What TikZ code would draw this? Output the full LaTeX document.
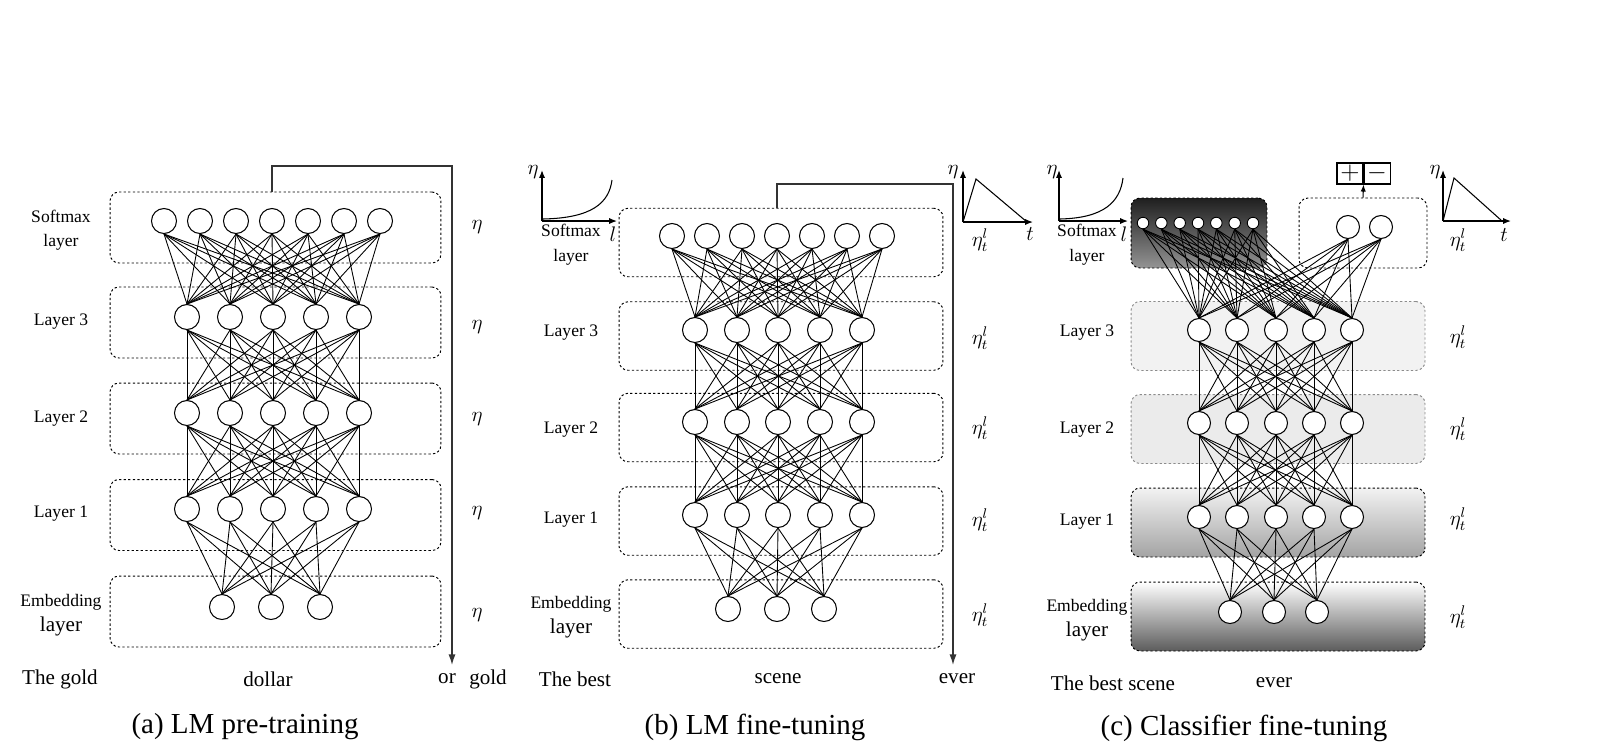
\documentclass[tikz,border=0pt]{standalone}
\usepackage{fontspec}
\setmainfont{Liberation Serif}
\usetikzlibrary{shapes,positioning,arrows.meta}

\begin{document}
\begin{tikzpicture}[x=0.02cm, y=-0.02cm,
    neuron/.style={circle, draw, fill=white, inner sep=0pt, minimum size=0.5cm, line width=0.6pt},
    dot/.style={circle, draw, fill=white, inner sep=0pt, minimum size=0.23cm, line width=0.5pt},
    layerbox/.style={draw, rectangle, rounded corners=0.18cm, dash pattern=on 1.3pt off 1.3pt, line width=0.55pt, inner sep=0pt},
    edge/.style={line width=0.5pt},
    flow/.style={line width=0.8pt, black!80, -{Latex[length=6pt,width=4pt]}},
    axis/.style={line width=0.7pt, -{Latex[length=4.5pt,width=3.5pt]}},
    lbl/.style={font=\fontsize{10}{14}\selectfont, align=center},
    word/.style={font=\fontsize{12}{14}\selectfont},
    rate/.style={font=\fontsize{12}{14}\selectfont},
    captext/.style={font=\fontsize{16.5}{18}\selectfont}]

\useasboundingbox (0,0) rectangle (1600,755);

% ---------------- (a) LM pre-training ----------------
% Layers
\foreach \n/\y in {s/227.5,3/322.5,2/418.5,1/515,e/611.5}
    \node[layerbox, minimum width=6.62cm, minimum height=1.42cm] (a-box-\n) at (275.5,\y) {};

% Units
\foreach \x [count=\i] in {164,200,236,272,308,344,380}
    \node[neuron] (a-s-\i) at (\x,221) {};
\foreach \y/\n in {317/3,413/2,509/1}
    \foreach \x [count=\i] in {187,230,273,316,359}
        \node[neuron] (a-\n-\i) at (\x,\y) {};
\foreach \x [count=\i] in {222,271,320}
    \node[neuron] (a-e-\i) at (\x,607) {};

% Weights
\foreach \i in {1,...,7} \foreach \j in {1,...,5}
    \draw[edge] (a-s-\i.south) -- (a-3-\j.north);
\foreach \i in {1,...,5} \foreach \j in {1,...,5} {
    \draw[edge] (a-3-\i.south) -- (a-2-\j.north);
    \draw[edge] (a-2-\i.south) -- (a-1-\j.north);
}
\foreach \i in {1,...,5} \foreach \j in {1,...,3}
    \draw[edge] (a-1-\i.south) -- (a-e-\j.north);

% Output loop
\coordinate (a-top) at (452,166);
\coordinate (a-end) at (452,665);
\draw[flow] (a-box-s.north -| a-s-4) |- (a-top) -- (a-end);

% Labels
\node[lbl] (a-ls) at (61,230) {Softmax\\layer};
\node[lbl] (a-l3) at (61,322) {Layer 3};
\node[lbl] (a-l2) at (61,419) {Layer 2};
\node[lbl] (a-l1) at (61,514) {Layer 1};
\node[lbl] (a-le) at (61,615) {Embedding\\{\fontsize{12}{14}\selectfont layer}};
\foreach \y [count=\i] in {227,327,419,513,615}
    \node[rate] (a-r-\i) at (477,\y) {$\eta$};
\node[word] (a-w1) at (60,679) {The gold};
\node[word] (a-w2) at (268,679) {dollar};
\node[word] (a-w3) at (447,679) {or};
\node[word] (a-w4) at (488,679) {gold};
\node[captext] (a-cap) at (245,727) {(a) LM pre-training};

% ---------------- (b) LM fine-tuning ----------------
\foreach \n/\y in {s/242.5,3/336,2/427.5,1/521,e/614}
    \node[layerbox, minimum width=6.48cm, minimum height=1.37cm] (b-box-\n) at (781,\y) {};

\foreach \x [count=\i] in {672,707,742,777,812,847,882}
    \node[neuron] (b-s-\i) at (\x,236) {};
\foreach \y/\n in {330/3,422/2,515/1}
    \foreach \x [count=\i] in {695,737,778,820,862}
        \node[neuron] (b-\n-\i) at (\x,\y) {};
\foreach \x [count=\i] in {728,777,824}
    \node[neuron] (b-e-\i) at (\x,609) {};

\foreach \i in {1,...,7} \foreach \j in {1,...,5}
    \draw[edge] (b-s-\i.south) -- (b-3-\j.north);
\foreach \i in {1,...,5} \foreach \j in {1,...,5} {
    \draw[edge] (b-3-\i.south) -- (b-2-\j.north);
    \draw[edge] (b-2-\i.south) -- (b-1-\j.north);
}
\foreach \i in {1,...,5} \foreach \j in {1,...,3}
    \draw[edge] (b-1-\i.south) -- (b-e-\j.north);

\coordinate (b-top) at (953,184);
\coordinate (b-end) at (953,665);
\draw[flow] (b-box-s.north -| b-s-4) |- (b-top) -- (b-end);

% discriminative fine-tuning
\draw[axis] (542,221) -- (542,170);
\draw[axis] (542,221) -- (617,221);
\draw[line width=0.6pt] (543,219) .. controls (592,218) and (609,203) .. (612,180);
\node[rate] at (533,172) {$\eta$};
\node[rate] at (613,234) {$l$};
% slanted triangular rates
\draw[axis] (963,222) -- (963,170);
\draw[axis] (963,222) -- (1033,222);
\draw[line width=0.6pt] (963,222) -- (976,179) -- (1027,222);
\node[rate] at (953,172) {$\eta$};
\node[rate] at (1030,234) {$t$};

\node[lbl] (b-ls) at (571,245) {Softmax\\layer};
\node[lbl] (b-l3) at (571,333) {Layer 3};
\node[lbl] (b-l2) at (571,430) {Layer 2};
\node[lbl] (b-l1) at (571,520) {Layer 1};
\node[lbl] (b-le) at (571,617) {Embedding\\{\fontsize{12}{14}\selectfont layer}};
\foreach \y [count=\i] in {240,338,428,520,615}
    \node[rate] (b-r-\i) at (980,\y) {$\eta_t^l$};
\node[word] (b-w1) at (575,679) {The best};
\node[word] (b-w2) at (778,679) {scene};
\node[word] (b-w3) at (957,679) {ever};
\node[captext] (b-cap) at (755,727) {(b) LM fine-tuning};

% ---------------- (c) Classifier fine-tuning ----------------
\node[layerbox, minimum width=2.72cm, minimum height=1.4cm, top color=black!88, bottom color=black!42] (c-box-s) at (1199,233) {};
\node[layerbox, minimum width=2.56cm, minimum height=1.4cm] (c-box-c) at (1363,233) {};
\node[layerbox, draw=black!45, fill=black!5, minimum width=5.88cm, minimum height=1.38cm] (c-box-3) at (1278,336) {};
\node[layerbox, draw=black!45, fill=black!8, minimum width=5.88cm, minimum height=1.38cm] (c-box-2) at (1278,429) {};
\node[layerbox, top color=black!5, bottom color=black!36, minimum width=5.88cm, minimum height=1.38cm] (c-box-1) at (1278,522.5) {};
\node[layerbox, top color=white, bottom color=black!64, minimum width=5.88cm, minimum height=1.38cm] (c-box-e) at (1278,616.5) {};

\foreach \x [count=\i] in {1143,1161.3,1179.7,1198,1216.3,1234.7,1253}
    \node[dot] (c-s-\i) at (\x,223) {};
\foreach \x [count=\i] in {1348,1381}
    \node[neuron, minimum size=0.46cm] (c-c-\i) at (\x,227) {};
\foreach \y/\n in {330/3,423/2,517/1}
    \foreach \x [count=\i] in {1199,1237,1276,1314,1352}
        \node[neuron, minimum size=0.46cm] (c-\n-\i) at (\x,\y) {};
\foreach \x [count=\i] in {1230,1274,1317}
    \node[neuron, minimum size=0.46cm] (c-e-\i) at (\x,612) {};

\foreach \i in {1,...,7} \foreach \j in {1,...,5}
    \draw[edge] (c-s-\i.south) -- (c-3-\j.north);
\foreach \i in {1,2} \foreach \j in {1,...,5}
    \draw[edge] (c-c-\i.south) -- (c-3-\j.north);
\foreach \i in {1,...,5} \foreach \j in {1,...,5} {
    \draw[edge] (c-3-\i.south) -- (c-2-\j.north);
    \draw[edge] (c-2-\i.south) -- (c-1-\j.north);
}
\foreach \i in {1,...,5} \foreach \j in {1,...,3}
    \draw[edge] (c-1-\i.south) -- (c-e-\j.north);

% Output classes
\node[draw, line width=0.6pt, minimum width=0.52cm, minimum height=0.42cm, inner sep=0pt, font=\fontsize{14}{14}\selectfont] (c-pos) at (1350,173.5) {$+$};
\node[draw, line width=0.6pt, minimum width=0.52cm, minimum height=0.42cm, inner sep=0pt, font=\fontsize{14}{14}\selectfont, right=0pt of c-pos] (c-neg) {$-$};
\draw[line width=0.6pt, -{Latex[length=4pt,width=3pt]}] (c-box-c.north) -- (c-pos.south east);

% discriminative fine-tuning
\draw[axis] (1059,221) -- (1059,170);
\draw[axis] (1059,221) -- (1128,221);
\draw[line width=0.6pt] (1060,219) .. controls (1104,218) and (1120,202) .. (1123,178);
\node[rate] at (1052,172) {$\eta$};
\node[rate] at (1124,234) {$l$};
% slanted triangular rates
\draw[axis] (1443,221) -- (1443,170);
\draw[axis] (1443,221) -- (1511,221);
\draw[line width=0.6pt] (1443,221) -- (1454,178) -- (1502,221);
\node[rate] at (1435,172) {$\eta$};
\node[rate] at (1504,235) {$t$};

\node[lbl] (c-ls) at (1087,245) {Softmax\\layer};
\node[lbl] (c-l3) at (1087,333) {Layer 3};
\node[lbl] (c-l2) at (1087,430) {Layer 2};
\node[lbl] (c-l1) at (1087,522) {Layer 1};
\node[lbl] (c-le) at (1087,620) {Embedding\\{\fontsize{12}{14}\selectfont layer}};
\foreach \y [count=\i] in {240,337,429,519,617}
    \node[rate] (c-r-\i) at (1458,\y) {$\eta_t^l$};
\node[word] (c-w1) at (1113,683) {The best scene};
\node[word] (c-w2) at (1274,683) {ever};
\node[captext] (c-cap) at (1244,728) {(c) Classifier fine-tuning};
\end{tikzpicture}
\end{document}
